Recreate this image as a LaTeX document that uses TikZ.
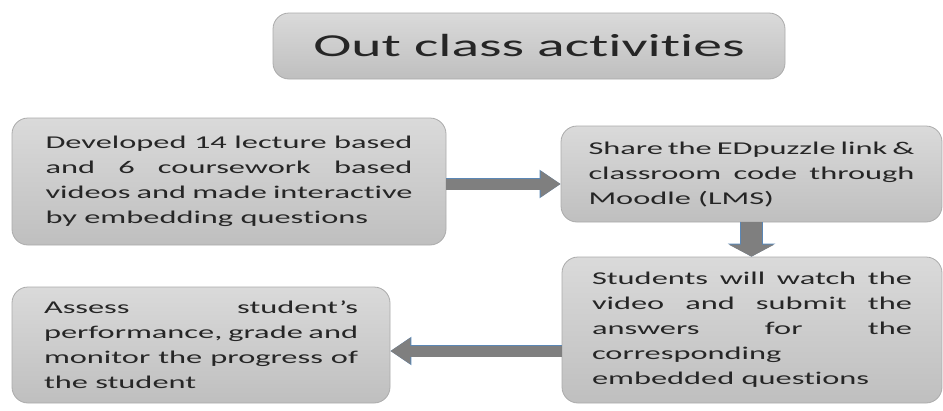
\documentclass[tikz,border=0pt]{standalone}
\usepackage{fontspec}
\setmainfont{Carlito}[FakeStretch=1.8, Ligatures=NoCommon]
\usetikzlibrary{arrows.meta}

\definecolor{boxtop}{HTML}{DADADA}
\definecolor{boxbottom}{HTML}{BFBFBF}
\definecolor{boxline}{HTML}{ABABAB}
\definecolor{arrowfill}{HTML}{7F7F7F}
\definecolor{arrowline}{HTML}{5B87B5}

\tikzset{
  card/.style={rectangle, rounded corners=16pt, draw=boxline, line width=0.8pt,
    top color=boxtop, bottom color=boxbottom, align=justify, text=black!85,
    font=\fontsize{18}{25}\selectfont},
  fatarrow/.style={draw=arrowfill, line width=11pt, -{Triangle[width=25pt,length=20pt,fill=arrowfill]},
    preaction={draw=arrowline, line width=12.5pt, -{Triangle[width=27pt,length=21pt,fill=arrowline]}}},
  downarrow/.style={draw=arrowfill, line width=21pt, -{Triangle[width=45pt,length=12pt,fill=arrowfill]},
    preaction={draw=arrowline, line width=22.5pt, -{Triangle[width=47pt,length=13pt,fill=arrowline]}}}
}

\begin{document}
\begin{tikzpicture}[x=1pt, y=-1pt]
\useasboundingbox (0,0) rectangle (943,410);

% Heading
\node[card, align=center, inner sep=0pt, minimum width=512pt, minimum height=66pt,
  font=\fontsize{32}{36}\selectfont] (title) at (529,46) {Out class activities};

% Steps
\node[card, text width=367pt, inner xsep=33.5pt, inner ysep=0pt, minimum height=127pt] (videos) at (229,181.5)
  {Developed 14 lecture based\linebreak and 6 coursework based\linebreak videos and made interactive\linebreak by embedding questions};
\node[card, text width=326pt, inner xsep=27.5pt, inner ysep=0pt, minimum height=96pt] (share) at (751.5,174)
  {Share the EDpuzzle link \&\linebreak classroom code through\linebreak Moodle (LMS)};
\node[card, text width=320pt, inner xsep=30pt, inner ysep=0pt, minimum height=146pt] (watch) at (752,330)
  {Students will watch the\linebreak video and submit the\linebreak answers for the\linebreak corresponding\newline embedded questions};
\node[card, text width=314pt, inner xsep=32pt, inner ysep=0pt, minimum height=116pt] (assess) at (201,345)
  {Assess student’s\linebreak performance, grade and\linebreak monitor the progress of\linebreak the student};

% Arrows
\draw[fatarrow] ([yshift=-2.5pt]videos.east) -- ([yshift=-2.5pt]videos.east -| share.west);
\draw[downarrow] (share.south) -- (share.south |- watch.north);
\draw[fatarrow] ([yshift=-6pt]watch.west |- assess.east) -- ([yshift=-6pt]assess.east);
\end{tikzpicture}
\end{document}
